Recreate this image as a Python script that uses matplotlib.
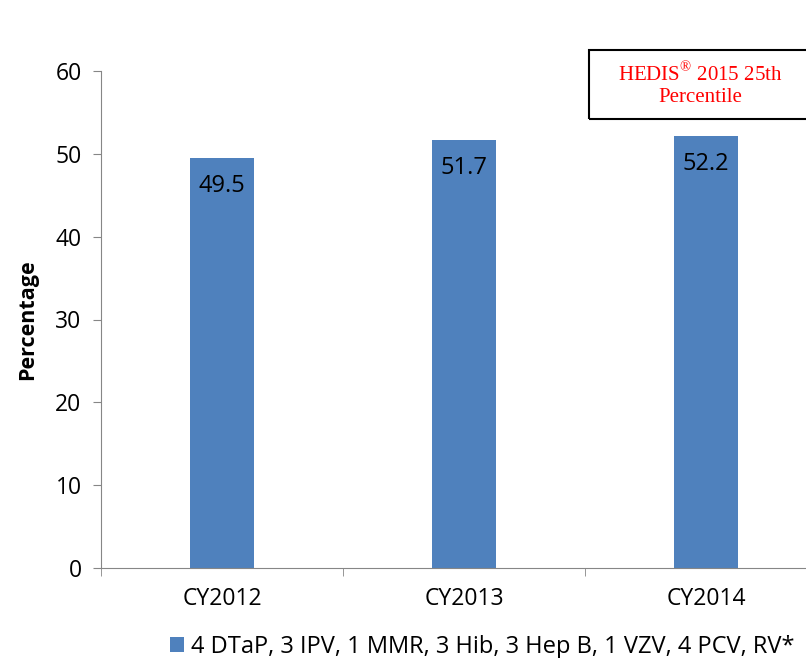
import matplotlib.pyplot as plt
import matplotlib.patches as mpatches
import numpy as np

years = ["CY2012", "CY2013", "CY2014"]
rates = [49.5, 51.7, 52.2]
series_name = "4 DTaP, 3 IPV, 1 MMR, 3 Hib, 3 Hep B, 1 VZV, 4 PCV, RV*"
note_line1 = r"HEDIS$^{\mathrm{®}}$ 2015 25th"
note_line2 = "Percentile"

plt.rcParams["font.family"] = ["Open Sans", "DejaVu Sans"]
plt.rcParams["mathtext.fontset"] = "custom"
plt.rcParams["mathtext.rm"] = "Liberation Serif"

fig = plt.figure(figsize=(8.06, 6.58), dpi=100)
W, H = 806, 658
# plot area runs past the right edge of the picture
ax = fig.add_axes([101 / W, 1 - 568 / H, 726 / W, (568 - 71) / H])

blue = "#4f81bd"
grey = "#868686"
x = np.arange(len(years)) + 0.5
bars = ax.bar(x, rates, width=0.264, color=blue, label=series_name, zorder=2)

for xi, v in zip(x, rates):
    ax.text(xi, v - 3.4, f"{v:.1f}", ha="center", va="center", fontsize=17)

ax.set_xlim(0, 3)
ax.set_ylim(0, 60)
ax.set_yticks(range(0, 61, 10))
ax.set_xticks(x)
ax.set_xticklabels(years)
ax.set_xticks(np.arange(0, 4), minor=True)
ax.tick_params(axis="x", which="major", length=0, pad=14, labelsize=16.5)
ax.tick_params(axis="x", which="minor", length=6, color=grey, direction="out")
ax.tick_params(axis="y", length=6, color=grey, direction="out", pad=8, labelsize=16.5)

for s in ["top", "right"]:
    ax.spines[s].set_visible(False)
for s in ["left", "bottom"]:
    ax.spines[s].set_color(grey)

ax.set_ylabel("Percentage", fontsize=15.5, fontweight="bold")
ax.yaxis.set_label_coords(-63 / 726, 0.5)

fig.legend(handles=[bars], labels=[series_name], loc="center",
           bbox_to_anchor=(482 / W, 1 - 647 / H), frameon=False, fontsize=17,
           handlelength=0.6, handleheight=0.6, handletextpad=0.3)

# note box
box = mpatches.Rectangle((589 / W, 1 - 119 / H), 240 / W, 69 / H,
                         transform=fig.transFigure, fill=False,
                         edgecolor="black", linewidth=1.5)
fig.patches.append(box)
fig.text(700 / W, 1 - 74 / H, note_line1, ha="center", va="center",
         color="red", fontsize=15, family="Liberation Serif")
fig.text(700 / W, 1 - 98 / H, note_line2, ha="center", va="center",
         color="red", fontsize=15, family="Liberation Serif")

fig.savefig("out.png", dpi=100)
